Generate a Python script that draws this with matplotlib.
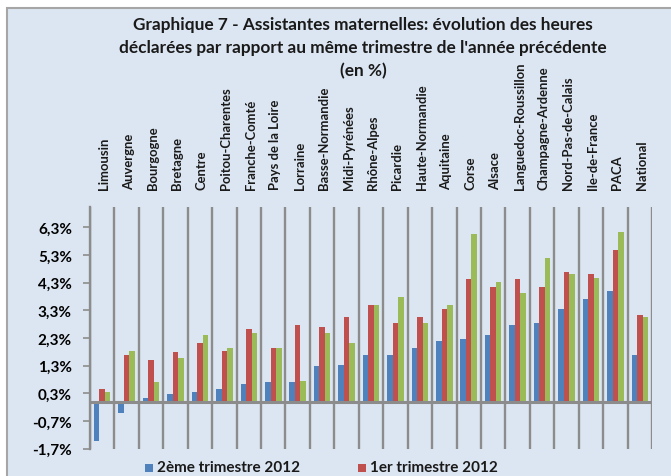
import matplotlib
matplotlib.use("Agg")
import matplotlib.pyplot as plt
import numpy as np
from matplotlib.patches import Rectangle
from matplotlib.ticker import FuncFormatter

regions = ["Limousin", "Auvergne", "Bourgogne", "Bretagne", "Centre", "Poitou-Charentes",
           "Franche-Comté", "Pays de la Loire", "Lorraine", "Basse-Normandie", "Midi-Pyrénées",
           "Rhône-Alpes", "Picardie", "Haute-Normandie", "Aquitaine", "Corse", "Alsace",
           "Languedoc-Roussillon", "Champagne-Ardenne", "Nord-Pas-de-Calais", "Ile-de-France",
           "PACA", "National"]
t2_2012 = [-1.42, -0.43, 0.13, 0.27, 0.35, 0.47, 0.62, 0.70, 0.70, 1.27, 1.34,
           1.70, 1.70, 1.92, 2.20, 2.26, 2.41, 2.78, 2.85, 3.34, 3.71, 4.00, 1.70]
t1_2012 = [0.47, 1.70, 1.49, 1.78, 2.12, 1.84, 2.62, 1.92, 2.78, 2.70, 3.05,
           3.48, 2.85, 3.05, 3.34, 4.42, 4.13, 4.42, 4.13, 4.70, 4.63, 5.48, 3.13]
t4_2011 = [0.35, 1.84, 0.70, 1.56, 2.41, 1.92, 2.49, 1.92, 0.76, 2.49, 2.12,
           3.48, 3.77, 2.85, 3.48, 6.06, 4.34, 3.91, 5.19, 4.63, 4.48, 6.13, 3.05]
series_names = ["2ème trimestre 2012", "1er trimestre 2012", "4ème trimestre 2011"]
yticks = [-1.7, -0.7, 0.3, 1.3, 2.3, 3.3, 4.3, 5.3, 6.3]
title_lines = ["Graphique 7 - Assistantes maternelles: évolution des heures",
               "déclarées par rapport au même trimestre de l'année précédente",
               "(en %)"]

FONT = "Lato"
BG = "#DCE6F2"
GRAY = "#8C8C8C"
colors = ["#4F81BD", "#C0504D", "#9BBB59"]

W, H = 671, 477
fig = plt.figure(figsize=(W / 100, H / 100), dpi=100, facecolor="white")
bg = Rectangle((7 / W, -0.1), 1.2, 1 - 9 / H + 0.1, transform=fig.transFigure,
               facecolor=BG, edgecolor="#A6A6A6", linewidth=1.5, zorder=-10)
fig.add_artist(bg)

ax = fig.add_axes([90 / W, 1 - 449.5 / H, (652 - 90) / W, (449.5 - 208) / H])
ax.set_zorder(2)
ax.patch.set_alpha(0)

n = len(regions)
x = np.arange(n)
bw = 0.225
for k, (vals, c) in enumerate(zip([t2_2012, t1_2012, t4_2011], colors)):
    ax.bar(x + (k - 1) * bw, vals, width=bw, color=c, edgecolor="none", zorder=3,
           label=series_names[k])

ax.set_xlim(-0.5, n - 0.5)
ax.set_ylim(-1.7, 7.04)
ax.vlines(np.arange(n + 1) - 0.5, -1.7, 7.04, color=GRAY, linewidth=1.7, zorder=2)
ax.axhline(0, color=GRAY, linewidth=2.2, zorder=4)

for s in ["top", "right", "bottom"]:
    ax.spines[s].set_visible(False)
ax.spines["left"].set_color(GRAY)
ax.spines["left"].set_linewidth(1.7)

ax.set_yticks(yticks)
ax.yaxis.set_major_formatter(FuncFormatter(lambda v, p: f"{v:.1f}%".replace(".", ",")))
ax.tick_params(axis="y", length=5, width=1.2, color=GRAY, pad=8, labelsize=11)
for lab in ax.get_yticklabels():
    lab.set_fontfamily(FONT)
    lab.set_fontweight("bold")
ax.set_xticks([])

# category labels above the plot
for i, r in enumerate(regions):
    ax.annotate(r, xy=(i + 0.08, 1), xycoords=("data", "axes fraction"),
                xytext=(0, 13), textcoords="offset points",
                rotation=90, ha="center", va="bottom", fontsize=9.4,
                fontweight="bold", family=FONT, color="#1a1a1a")

for line, yp in zip(title_lines, [25, 48, 71]):
    fig.text(0.541, 1 - yp / H, line, ha="center", va="center", fontsize=12.4,
             fontweight="bold", family=FONT, color="#1a1a1a")

# legend (visible entries)
leg_x = [145, 358]
for xp, c, name in zip(leg_x, colors[:2], series_names[:2]):
    fig.add_artist(Rectangle((xp / W, 1 - 473 / H), 8 / W, 8 / H, transform=fig.transFigure,
                             facecolor=c, edgecolor="none", zorder=5))
    fig.text((xp + 12) / W, 1 - 468 / H, name, ha="left", va="center", fontsize=11,
             fontweight="bold", family=FONT, color="#1a1a1a")

fig.savefig("out.png", dpi=100, facecolor="white")
